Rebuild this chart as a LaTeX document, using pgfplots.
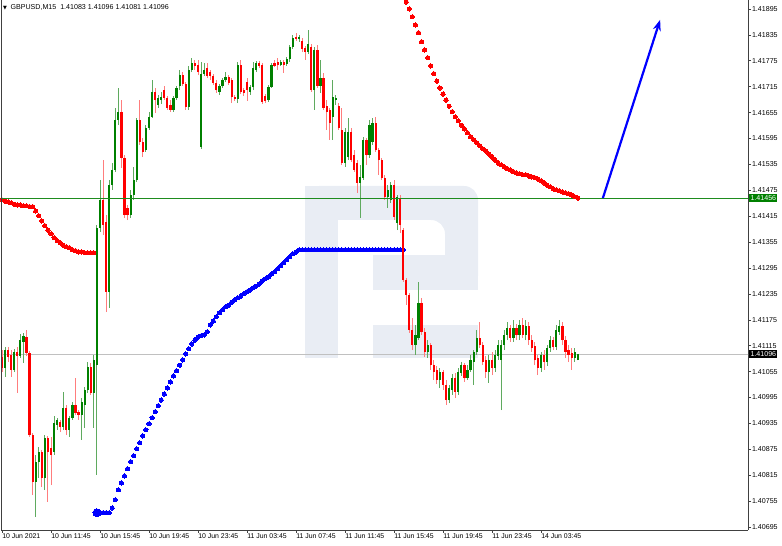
\documentclass[border=0pt]{standalone}
\usepackage{fontspec}
\setmainfont{Liberation Sans}
\newfontfamily\dejavu{DejaVu Sans}
\usepackage{pgfplots}
\pgfplotsset{compat=1.18}
\usepackage{pgfplotstable}
\usetikzlibrary{arrows.meta}
\definecolor{bodyG}{RGB}{0,128,0}
\definecolor{wickG}{RGB}{95,170,95}
\definecolor{bodyR}{RGB}{255,0,0}
\definecolor{wickR}{RGB}{255,125,125}
\definecolor{lineG}{RGB}{30,140,30}
\definecolor{boxG}{RGB}{0,128,0}
\definecolor{wm}{RGB}{233,237,244}
\definecolor{bidgray}{RGB}{192,192,192}
\definecolor{dotR}{RGB}{255,0,0}
\definecolor{dotB}{RGB}{0,0,255}
\newcommand\mtfont{\fontsize{7.1bp}{8.5bp}\selectfont}
\newcommand\mtfontx{\fontsize{6.9bp}{8bp}\selectfont}

\pgfplotstableread{
i o h l c
1 1.41064 1.41112 1.41043 1.41105
4 1.41059 1.41108 1.41054 1.41101
6 1.41091 1.41142 1.41087 1.41128
7 1.41124 1.41145 1.41075 1.41138
11 1.40799 1.40862 1.40718 1.40846
12 1.40846 1.40881 1.40809 1.40869
14 1.40809 1.40908 1.40781 1.40901
17 1.40869 1.40952 1.40862 1.40936
18 1.40932 1.40948 1.40920 1.40943
20 1.40927 1.41008 1.40920 1.40971
22 1.40920 1.40952 1.40904 1.40948
23 1.40948 1.40985 1.40943 1.40978
26 1.40955 1.40994 1.40897 1.40985
27 1.40978 1.41020 1.40925 1.41013
28 1.41013 1.41077 1.41006 1.41066
30 1.41006 1.41094 1.40925 1.41082
31 1.41070 1.41395 1.40816 1.41388
32 1.41388 1.41499 1.41379 1.41453
35 1.41240 1.41499 1.41203 1.41487
36 1.41487 1.41538 1.41476 1.41522
37 1.41522 1.41666 1.41518 1.41638
38 1.41638 1.41712 1.41626 1.41657
42 1.41418 1.41476 1.41411 1.41464
43 1.41464 1.41529 1.41453 1.41499
44 1.41499 1.41643 1.41494 1.41638
47 1.41568 1.41626 1.41564 1.41619
48 1.41619 1.41657 1.41615 1.41645
49 1.41645 1.41731 1.41643 1.41703
51 1.41673 1.41696 1.41666 1.41689
52 1.41684 1.41703 1.41675 1.41691
56 1.41661 1.41694 1.41657 1.41689
57 1.41689 1.41717 1.41684 1.41712
58 1.41717 1.41754 1.41707 1.41742
61 1.41668 1.41763 1.41661 1.41754
62 1.41754 1.41782 1.41749 1.41770
65 1.41575 1.41772 1.41571 1.41745
66 1.41745 1.41770 1.41740 1.41754
71 1.41703 1.41721 1.41696 1.41717
72 1.41717 1.41735 1.41712 1.41731
73 1.41731 1.41749 1.41726 1.41738
77 1.41687 1.41772 1.41677 1.41765
81 1.41703 1.41719 1.41696 1.41714
82 1.41714 1.41772 1.41707 1.41758
83 1.41754 1.41775 1.41749 1.41770
87 1.41684 1.41719 1.41680 1.41714
88 1.41714 1.41770 1.41712 1.41765
91 1.41765 1.41777 1.41763 1.41772
93 1.41768 1.41784 1.41763 1.41779
94 1.41779 1.41812 1.41772 1.41807
95 1.41807 1.41835 1.41802 1.41828
97 1.41826 1.41835 1.41819 1.41830
100 1.41795 1.41846 1.41791 1.41814
102 1.41707 1.41807 1.41661 1.41800
104 1.41717 1.41777 1.41701 1.41735
108 1.41645 1.41731 1.41592 1.41691
109 1.41684 1.41696 1.41673 1.41689
112 1.41538 1.41619 1.41529 1.41610
113 1.41552 1.41643 1.41545 1.41610
117 1.41492 1.41534 1.41411 1.41506
118 1.41504 1.41599 1.41499 1.41592
120 1.41557 1.41638 1.41550 1.41626
121 1.41587 1.41643 1.41580 1.41631
126 1.41460 1.41487 1.41434 1.41476
127 1.41453 1.41494 1.41446 1.41487
129 1.41399 1.41464 1.41383 1.41460
135 1.41117 1.41163 1.41094 1.41140
136 1.41133 1.41263 1.41128 1.41214
139 1.41101 1.41128 1.41087 1.41117
143 1.41036 1.41064 1.41017 1.41054
146 1.40989 1.41024 1.40982 1.41017
147 1.41013 1.41050 1.41001 1.41040
149 1.41008 1.41064 1.41001 1.41054
150 1.41052 1.41077 1.41045 1.41070
152 1.41040 1.41070 1.41036 1.41059
153 1.41059 1.41094 1.41054 1.41082
154 1.41077 1.41105 1.41024 1.41101
155 1.41101 1.41152 1.41094 1.41133
159 1.41054 1.41094 1.41029 1.41082
161 1.41064 1.41105 1.41054 1.41094
162 1.41091 1.41128 1.41082 1.41117
163 1.41082 1.41128 1.40966 1.41117
164 1.41117 1.41152 1.41105 1.41140
165 1.41140 1.41170 1.41128 1.41156
167 1.41133 1.41175 1.41124 1.41156
169 1.41140 1.41175 1.41128 1.41163
171 1.41140 1.41175 1.41128 1.41161
176 1.41064 1.41101 1.41054 1.41094
178 1.41077 1.41117 1.41068 1.41110
179 1.41110 1.41138 1.41101 1.41128
181 1.41112 1.41163 1.41105 1.41152
182 1.41147 1.41175 1.41140 1.41161
187 1.41087 1.41110 1.41077 1.41101
188 1.41083 1.41096 1.41081 1.41096
}\candG

\pgfplotstableread{
i o h l c
0 1.41089 1.41105 1.41054 1.41064
2 1.41105 1.41112 1.41077 1.41089
3 1.41094 1.41105 1.41043 1.41059
5 1.41101 1.41112 1.41006 1.41091
8 1.41135 1.41152 1.41091 1.41098
9 1.41098 1.41103 1.40904 1.40908
10 1.40908 1.40913 1.40769 1.40799
13 1.40869 1.40874 1.40788 1.40809
15 1.40901 1.40906 1.40753 1.40869
16 1.40878 1.40904 1.40792 1.40862
19 1.40938 1.40943 1.40915 1.40927
21 1.40971 1.40978 1.40908 1.40920
24 1.40978 1.41040 1.40955 1.40959
25 1.40962 1.40966 1.40943 1.40955
29 1.41066 1.41075 1.41001 1.41006
33 1.41453 1.41545 1.41372 1.41395
34 1.41402 1.41418 1.41193 1.41240
39 1.41657 1.41684 1.41527 1.41550
40 1.41550 1.41557 1.41411 1.41418
41 1.41434 1.41441 1.41406 1.41418
45 1.41638 1.41684 1.41580 1.41587
46 1.41587 1.41596 1.41552 1.41564
50 1.41703 1.41712 1.41654 1.41684
53 1.41707 1.41717 1.41684 1.41689
54 1.41689 1.41694 1.41661 1.41666
55 1.41673 1.41684 1.41657 1.41661
59 1.41742 1.41749 1.41717 1.41721
60 1.41721 1.41726 1.41661 1.41668
63 1.41770 1.41777 1.41754 1.41763
64 1.41765 1.41777 1.41742 1.41749
67 1.41758 1.41770 1.41735 1.41740
68 1.41749 1.41754 1.41731 1.41740
69 1.41740 1.41745 1.41719 1.41724
70 1.41724 1.41731 1.41701 1.41707
74 1.41738 1.41742 1.41719 1.41724
75 1.41731 1.41735 1.41677 1.41691
76 1.41691 1.41696 1.41682 1.41687
78 1.41765 1.41777 1.41698 1.41703
79 1.41707 1.41712 1.41694 1.41701
80 1.41726 1.41735 1.41682 1.41707
84 1.41770 1.41775 1.41758 1.41763
85 1.41765 1.41770 1.41675 1.41680
86 1.41694 1.41698 1.41677 1.41682
89 1.41770 1.41777 1.41761 1.41763
90 1.41772 1.41782 1.41754 1.41765
92 1.41772 1.41777 1.41747 1.41765
96 1.41830 1.41840 1.41821 1.41826
98 1.41821 1.41828 1.41795 1.41802
99 1.41805 1.41809 1.41777 1.41795
101 1.41807 1.41814 1.41703 1.41707
103 1.41800 1.41812 1.41712 1.41717
105 1.41735 1.41747 1.41661 1.41666
106 1.41670 1.41684 1.41615 1.41657
107 1.41661 1.41666 1.41592 1.41631
110 1.41670 1.41677 1.41615 1.41619
111 1.41615 1.41666 1.41534 1.41538
114 1.41610 1.41619 1.41541 1.41545
115 1.41557 1.41568 1.41518 1.41522
116 1.41538 1.41545 1.41469 1.41492
119 1.41592 1.41596 1.41534 1.41557
122 1.41631 1.41645 1.41564 1.41568
123 1.41568 1.41573 1.41511 1.41545
124 1.41545 1.41550 1.41499 1.41504
125 1.41504 1.41511 1.41453 1.41460
128 1.41487 1.41499 1.41406 1.41413
130 1.41457 1.41464 1.41376 1.41395
131 1.41383 1.41388 1.41263 1.41267
132 1.41267 1.41272 1.41210 1.41233
133 1.41233 1.41237 1.41145 1.41152
134 1.41152 1.41179 1.41105 1.41117
137 1.41214 1.41226 1.41140 1.41147
138 1.41147 1.41156 1.41089 1.41101
140 1.41117 1.41121 1.41059 1.41070
141 1.41070 1.41082 1.41036 1.41054
142 1.41059 1.41068 1.41026 1.41036
144 1.41054 1.41059 1.41013 1.41024
145 1.41024 1.41036 1.40978 1.40989
148 1.41040 1.41052 1.40994 1.41008
151 1.41070 1.41075 1.41031 1.41040
156 1.41133 1.41170 1.41110 1.41117
157 1.41117 1.41124 1.41070 1.41077
158 1.41082 1.41091 1.41040 1.41054
160 1.41082 1.41101 1.41047 1.41064
166 1.41156 1.41163 1.41124 1.41133
168 1.41156 1.41166 1.41128 1.41140
170 1.41163 1.41179 1.41133 1.41140
172 1.41161 1.41170 1.41117 1.41128
173 1.41128 1.41140 1.41101 1.41110
174 1.41114 1.41124 1.41070 1.41082
175 1.41087 1.41094 1.41047 1.41064
177 1.41094 1.41105 1.41059 1.41077
180 1.41128 1.41135 1.41105 1.41112
183 1.41161 1.41170 1.41117 1.41128
184 1.41128 1.41138 1.41087 1.41101
185 1.41105 1.41117 1.41077 1.41094
186 1.41098 1.41110 1.41059 1.41087
}\candR

\pgfplotstableread{
i p
0 1.41453
1 1.41450
2 1.41448
3 1.41446
4 1.41443
5 1.41441
6 1.41441
7 1.41439
8 1.41439
9 1.41437
10 1.41437
11 1.41427
12 1.41416
13 1.41404
14 1.41393
15 1.41383
16 1.41374
17 1.41365
18 1.41358
19 1.41353
20 1.41348
21 1.41344
22 1.41342
23 1.41337
24 1.41335
25 1.41332
26 1.41332
27 1.41330
28 1.41330
29 1.41330
30 1.41330
}\redleft

\pgfplotstableread{
i p
132 1.41911
133 1.41895
134 1.41877
135 1.41858
136 1.41840
137 1.41819
138 1.41800
139 1.41782
140 1.41763
141 1.41745
142 1.41728
143 1.41712
144 1.41698
145 1.41684
146 1.41670
147 1.41657
148 1.41645
149 1.41636
150 1.41626
151 1.41617
152 1.41608
153 1.41599
154 1.41592
155 1.41585
156 1.41578
157 1.41571
158 1.41566
159 1.41559
160 1.41552
161 1.41545
162 1.41538
163 1.41534
164 1.41529
165 1.41525
166 1.41522
167 1.41518
168 1.41515
169 1.41513
170 1.41511
171 1.41511
172 1.41508
173 1.41506
174 1.41504
175 1.41501
176 1.41497
177 1.41492
178 1.41487
179 1.41483
180 1.41478
181 1.41476
182 1.41474
183 1.41471
184 1.41469
185 1.41467
186 1.41464
187 1.41460
188 1.41457
}\redright

\pgfplotstableread{
i p
32 1.40728
33 1.40728
34 1.40728
35 1.40728
36 1.40739
37 1.40758
38 1.40781
39 1.40797
40 1.40813
41 1.40830
42 1.40846
43 1.40860
44 1.40876
45 1.40890
46 1.40906
47 1.40920
48 1.40934
49 1.40948
50 1.40962
51 1.40976
52 1.40989
53 1.41003
54 1.41017
55 1.41031
56 1.41045
57 1.41057
58 1.41070
59 1.41082
60 1.41096
61 1.41108
62 1.41119
63 1.41128
64 1.41135
65 1.41138
66 1.41140
67 1.41147
68 1.41163
69 1.41172
70 1.41182
71 1.41191
72 1.41198
73 1.41205
74 1.41209
75 1.41216
76 1.41221
77 1.41226
78 1.41230
79 1.41235
80 1.41240
81 1.41244
82 1.41249
83 1.41253
84 1.41258
85 1.41265
86 1.41270
87 1.41274
88 1.41281
89 1.41286
90 1.41293
91 1.41300
92 1.41307
93 1.41314
94 1.41321
95 1.41328
96 1.41332
97 1.41337
98 1.41337
99 1.41337
100 1.41337
101 1.41337
102 1.41337
103 1.41337
104 1.41337
105 1.41337
106 1.41337
107 1.41337
108 1.41337
109 1.41337
110 1.41337
111 1.41337
112 1.41337
113 1.41337
114 1.41337
115 1.41337
116 1.41337
117 1.41337
118 1.41337
119 1.41337
120 1.41337
121 1.41337
122 1.41337
123 1.41337
124 1.41337
125 1.41337
126 1.41337
127 1.41337
128 1.41337
129 1.41337
130 1.41337
131 1.41337
}\bluedots

\begin{document}
\begin{tikzpicture}
\useasboundingbox (0,0) rectangle (782bp,546bp);
% watermark logo
\fill[wm] (305bp,188bp) rectangle (338bp,360bp);
\fill[wm, rounded corners=14bp] (305bp,326bp) -- (305bp,360bp) -- (478bp,360bp) -- (478bp,256bp) -- (445bp,256bp) -- (445bp,326bp) -- cycle;
\fill[wm] (373bp,256bp) rectangle (478bp,291bp);
\fill[wm] (373bp,188bp) rectangle (478bp,221bp);
\begin{axis}[
  at={(1bp,16bp)}, anchor=south west,
  scale only axis, width=747bp, height=530bp,
  xmin=-0.3265, xmax=243.59, ymin=1.406881, ymax=1.419158,
  axis x line*=bottom, axis y line*=right,
  axis line style={-, draw=black!75, line width=0.8bp},
  tick align=outside, major tick length=3bp,
  tick style={draw=black!75, line width=0.6bp},
  scaled y ticks=false, scaled x ticks=false,
  clip mode=individual,
  xtick={0,16,32,48,64,80,96,112,128,144,160,176},
  xticklabels={10 Jun 2021,10 Jun 11:45,10 Jun 15:45,10 Jun 19:45,10 Jun 23:45,11 Jun 03:45,11 Jun 07:45,11 Jun 11:45,11 Jun 15:45,11 Jun 19:45,11 Jun 23:45,14 Jun 03:45},
  xticklabel style={anchor=north west, inner sep=0.6bp, xshift=-0.5bp, font=\mtfontx},
  ytick={1.40695,1.40755,1.40815,1.40875,1.40935,1.40995,1.41055,1.41115,1.41175,1.41235,1.41295,1.41355,1.41415,1.41475,1.41535,1.41595,1.41655,1.41715,1.41775,1.41835,1.41895},
  yticklabels={1.40695,1.40755,1.40815,1.40875,1.40935,1.40995,1.41055,1.41115,1.41175,1.41235,1.41295,1.41355,1.41415,1.41475,1.41535,1.41595,1.41655,1.41715,1.41775,1.41835,1.41895},
  yticklabel style={anchor=west, inner sep=0.8bp, font=\mtfont},
]
% bid line
\addplot[bidgray, line width=0.8bp, forget plot] coordinates {(-1,1.41096) (250,1.41096)};
% left red dots
\addplot[color=dotR, only marks, mark=*, mark size=2.1bp, mark options={solid, draw=dotR, fill=dotR, line width=0pt}, forget plot] table[x=i, y=p] {\redleft};
% blue dots
\addplot[color=dotB, only marks, mark=*, mark size=2.1bp, mark options={solid, draw=dotB, fill=dotB, line width=0pt}, forget plot] table[x=i, y=p] {\bluedots};
\addplot[color=dotB, only marks, mark=*, mark size=4bp, mark options={solid, draw=dotB, fill=dotB, line width=0pt}, forget plot] coordinates {(31,1.40728)};
% wicks
\addplot[draw=none, mark=none, forget plot,
  error bars/.cd, y dir=plus, y explicit, error mark=none,
  error bar style={draw=wickG, line width=0.9bp}]
  table[x=i, y=l, y error plus expr={\thisrow{h}-\thisrow{l}}] {\candG};
\addplot[draw=none, mark=none, forget plot,
  error bars/.cd, y dir=plus, y explicit, error mark=none,
  error bar style={draw=wickR, line width=0.9bp}]
  table[x=i, y=l, y error plus expr={\thisrow{h}-\thisrow{l}}] {\candR};
% bodies
\addplot[draw=none, mark=none, forget plot,
  error bars/.cd, y dir=plus, y explicit, error mark=none,
  error bar style={draw=bodyG, line width=2.2bp}]
  table[x=i, y=o, y error plus expr={\thisrow{c}-\thisrow{o}}] {\candG};
\addplot[draw=none, mark=none, forget plot,
  error bars/.cd, y dir=plus, y explicit, error mark=none,
  error bar style={draw=bodyR, line width=2.2bp}]
  table[x=i, y=c, y error plus expr={\thisrow{o}-\thisrow{c}}] {\candR};
% level line
\addplot[lineG, line width=1.4bp, forget plot] coordinates {(-1,1.41456) (250,1.41456)};
% right red dots
\addplot[color=dotR, only marks, mark=*, mark size=2.1bp, mark options={solid, draw=dotR, fill=dotR, line width=0pt}, forget plot] table[x=i, y=p] {\redright};
% arrow
\addplot[dotB, line width=2.2bp, -{Stealth[length=11bp, width=8bp]}, forget plot] coordinates {(196.2,1.41457) (214.9,1.41870)};
\end{axis}
\draw[black!75, line width=0.8bp] (1bp,16bp) -- (1bp,546bp);
\node[anchor=west, inner sep=0pt, font=\mtfont] at (3bp,539bp) {{\dejavu\fontsize{5bp}{6bp}\selectfont ▼}\hspace{3.5bp}GBPUSD,M15\ \ 1.41083 1.41096 1.41081 1.41096};
\node[anchor=west, fill=boxG, text=white, inner xsep=1.3bp, inner ysep=1.2bp, font=\mtfont] at (749bp,348bp) {1.41456};
\node[anchor=west, fill=black, text=white, inner xsep=1.3bp, inner ysep=1.2bp, font=\mtfont] at (749bp,192bp) {1.41096};
\end{tikzpicture}
\end{document}
